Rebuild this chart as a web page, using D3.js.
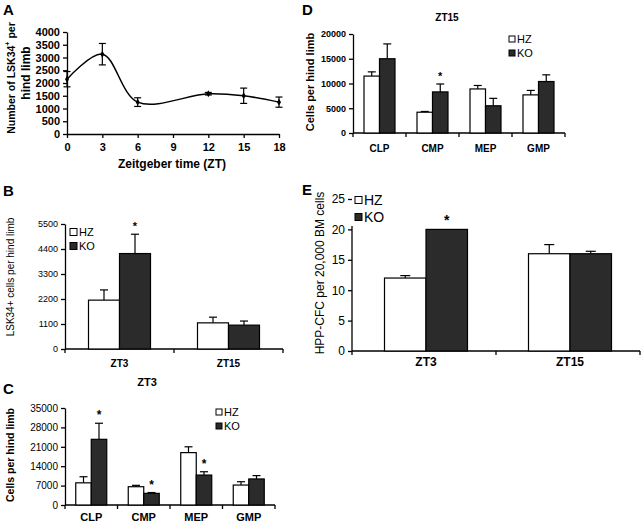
<!DOCTYPE html>
<html><head><meta charset="utf-8">
<script src="https://cdn.jsdelivr.net/npm/d3@7"></script>
<style>
body{margin:0;background:#fff;}
svg{font-family:"Liberation Sans",Arial,sans-serif;}
</style></head><body>
<svg id="c" width="643" height="526"></svg>
<script>
// ---- Data ----
// Panel A
const aTimes = [0, 3, 6, 12, 15, 18];
const aMeans = [2150, 3130, 1250, 1580, 1500, 1250];
const aErrs  = [300, 420, 170, 50, 300, 200];
const aYTicks = [0, 500, 1000, 1500, 2000, 2500, 3000, 3500, 4000];
const aXTicks = [0, 3, 6, 9, 12, 15, 18];
// Panel B
const bCats = ["ZT3", "ZT15"];
const bHZ = [2150, 1150];
const bHZerr = [450, 250];
const bKO = [4200, 1050];
const bKOerr = [850, 180];
const bTicks = [0, 1100, 2200, 3300, 4400, 5500];
const bStars = [1, 0];
// Panel C
const cCats = ["CLP", "CMP", "MEP", "GMP"];
const cHZ = [8000, 6600, 18900, 7200];
const cHZerr = [2200, 500, 2100, 1200];
const cKO = [23700, 4200, 10800, 9400];
const cKOerr = [5800, 300, 1200, 1200];
const cTicks = [0, 7000, 14000, 21000, 28000, 35000];
const cStars = [1, 1, 1, 0];
// Panel D
const dCats = ["CLP", "CMP", "MEP", "GMP"];
const dHZ = [11500, 4200, 8900, 7700];
const dHZerr = [850, 150, 700, 900];
const dKO = [15000, 8300, 5500, 10400];
const dKOerr = [3000, 1600, 1500, 1350];
const dTicks = [0, 5000, 10000, 15000, 20000];
const dStars = [0, 1, 0, 0];
// Panel E
const eCats = ["ZT3", "ZT15"];
const eHZ = [12, 16];
const eHZerr = [0.4, 1.5];
const eKO = [20, 16];
const eKOerr = [0, 0.4];
const eTicks = [0, 5, 10, 15, 20, 25];
const eStars = [1, 0];
const legendKeys = ["HZ", "KO"];

const svg = d3.select("#c");
const KOFILL = "#2b2b2b";
const fmt = d3.format("d");

function panelLetter(t, x, y) {
  svg.append("text").attr("x", x).attr("y", y).attr("font-size", 15)
    .attr("font-weight", "bold").text(t);
}

// ---- Panel A ----
(function(){
  const x = d3.scaleLinear().domain([0, 18]).range([67, 279]);
  const y = d3.scaleLinear().domain([0, 4000]).range([134, 32]);
  const g = svg.append("g");
  const ya = g.append("g").attr("transform", "translate(67,0)")
    .call(d3.axisLeft(y).tickValues(aYTicks).tickFormat(fmt).tickSize(4).tickSizeOuter(0));
  ya.selectAll("text").attr("font-size", 11).attr("font-weight", "bold")
    .attr("font-family", "Liberation Sans, Arial, sans-serif").attr("fill", "#000");
  const xa = g.append("g").attr("transform", "translate(0,134)")
    .call(d3.axisBottom(x).tickValues(aXTicks).tickFormat(fmt).tickSize(4).tickSizeOuter(0));
  xa.selectAll("text").attr("font-size", 11).attr("font-weight", "bold")
    .attr("font-family", "Liberation Sans, Arial, sans-serif").attr("fill", "#000").attr("dy", "0.9em");
  g.selectAll(".domain, .tick line").attr("stroke", "#000").attr("stroke-width", 1.3);
  const pts = aTimes.map((t, i) => [t, aMeans[i]]);
  g.append("path").datum(pts)
    .attr("d", d3.line().x(d => x(d[0])).y(d => y(d[1])).curve(d3.curveCatmullRom.alpha(0.5)))
    .attr("fill", "none").attr("stroke", "#000").attr("stroke-width", 1.5);
  aTimes.forEach((t, i) => {
    const cx = x(t), top = y(aMeans[i] + aErrs[i]), bot = y(aMeans[i] - aErrs[i]);
    g.append("line").attr("x1", cx).attr("x2", cx).attr("y1", top).attr("y2", bot).attr("stroke", "#000").attr("stroke-width", 1.2);
    [top, bot].forEach(yy => g.append("line").attr("x1", cx - 3.5).attr("x2", cx + 3.5).attr("y1", yy).attr("y2", yy).attr("stroke", "#000").attr("stroke-width", 1.2));
    g.append("path").attr("d", d3.symbol(d3.symbolDiamond, 14)()).attr("transform", `translate(${cx},${y(aMeans[i])})`).attr("fill", "#000");
  });
  g.append("text").attr("x", 172).attr("y", 168).attr("text-anchor", "middle")
    .attr("font-size", 12).attr("font-weight", "bold").text("Zeitgeber time (ZT)");
  const yl = g.append("text").attr("transform", "translate(15,78) rotate(-90)")
    .attr("text-anchor", "middle").attr("font-size", 10.5).attr("font-weight", "bold");
  yl.append("tspan").text("Number of LSK34");
  yl.append("tspan").attr("font-size", 7).attr("dy", -5).text("+");
  yl.append("tspan").attr("dy", 5).text(" per");
  g.append("text").attr("transform", "translate(30,73) rotate(-90)")
    .attr("text-anchor", "middle").attr("font-size", 12).attr("font-weight", "bold").text("hind limb");
  panelLetter("A", 3, 15);
})();

// ---- Generic grouped bar panel ----
function barPanel(o) {
  const g = svg.append("g");
  const x = d3.scaleBand().domain(o.cats).range([o.x0, o.x1]);
  const y = d3.scaleLinear().domain([0, o.ymax]).range([o.y0, o.y1]);
  const ya = g.append("g").attr("transform", `translate(${o.x0},0)`)
    .call(d3.axisLeft(y).tickValues(o.ticks).tickFormat(fmt).tickSize(4).tickSizeOuter(0));
  ya.selectAll("text").attr("font-size", o.tickFont).attr("font-weight", o.tickWeight)
    .attr("font-family", "Liberation Sans, Arial, sans-serif").attr("fill", "#000");
  if (o.axisTop != null) ya.select(".domain").attr("d", `M0,${o.axisTop}V${o.y0}`);
  // x axis with ticks at boundaries
  g.append("line").attr("x1", o.x0).attr("x2", o.x1).attr("y1", o.y0).attr("y2", o.y0).attr("stroke", "#000").attr("stroke-width", 1.3);
  const bounds = o.cats.map(c => x(c)).concat([o.x1]);
  bounds.forEach(bx => g.append("line").attr("x1", bx).attr("x2", bx).attr("y1", o.y0).attr("y2", o.y0 + 4).attr("stroke", "#000").attr("stroke-width", 1.3));
  g.selectAll(".domain, .tick line").attr("stroke", "#000").attr("stroke-width", 1.3);
  o.cats.forEach((c, i) => {
    const cx = x(c) + x.bandwidth() / 2 + (o.shift || 0);
    const series = [
      {v: o.hz[i], e: o.hzErr[i], x: cx - o.bw, fill: "#fff"},
      {v: o.ko[i], e: o.koErr[i], x: cx, fill: KOFILL}
    ];
    series.forEach(s => {
      const mid = s.x + o.bw / 2;
      if (s.e > 0) {
        const et = y(s.v + s.e);
        g.append("line").attr("x1", mid).attr("x2", mid).attr("y1", y(s.v)).attr("y2", et).attr("stroke", "#000").attr("stroke-width", 1.2);
        g.append("line").attr("x1", mid - o.cap).attr("x2", mid + o.cap).attr("y1", et).attr("y2", et).attr("stroke", "#000").attr("stroke-width", 1.2);
      }
      g.append("rect").attr("x", s.x).attr("y", y(s.v)).attr("width", o.bw).attr("height", o.y0 - y(s.v))
        .attr("fill", s.fill).attr("stroke", "#000").attr("stroke-width", 1.2);
    });
    if (o.stars[i]) {
      g.append("text").attr("x", cx + o.bw / 2).attr("y", y(o.ko[i] + o.koErr[i]) - 4).attr("text-anchor", "middle")
        .attr("font-size", o.starFont || 12).attr("font-weight", "bold").text("*");
    }
    g.append("text").attr("x", cx).attr("y", o.catY).attr("text-anchor", "middle")
      .attr("font-size", o.catFont).attr("font-weight", "bold").text(c);
  });
  // legend
  legendKeys.forEach((k, i) => {
    const ly = o.legY + i * o.legGap;
    g.append("rect").attr("x", o.legX).attr("y", ly - o.legSq / 2).attr("width", o.legSq).attr("height", o.legSq)
      .attr("fill", i ? KOFILL : "#fff").attr("stroke", "#000").attr("stroke-width", 1);
    g.append("text").attr("x", o.legX + o.legSq + 2).attr("y", ly).attr("dy", "0.35em")
      .attr("font-size", o.legFont).text(k);
  });
  if (o.title) g.append("text").attr("x", o.titleX).attr("y", o.titleY).attr("text-anchor", "middle")
    .attr("font-size", o.titleFont).attr("font-weight", "bold").text(o.title);
  g.append("text").attr("transform", `translate(${o.ylX},${o.ylY}) rotate(-90)`).attr("text-anchor", "middle")
    .attr("font-size", o.ylFont).attr("font-weight", o.ylWeight || "normal").text(o.ylabel);
  return g;
}

// Panel B
barPanel({cats: bCats, hz: bHZ, hzErr: bHZerr, ko: bKO, koErr: bKOerr, stars: bStars,
  x0: 65, x1: 283, y0: 349, y1: 224, ymax: 5500, ticks: bTicks, bw: 31, cap: 4,
  tickFont: 9, tickWeight: "normal", catFont: 10, catY: 367, starFont: 11,
  legX: 70, legY: 232, legGap: 14, legSq: 7, legFont: 11,
  ylabel: "LSK34+ cells per hind limb", ylX: 14, ylY: 277, ylFont: 10});
panelLetter("B", 3, 196);

// Panel C
barPanel({cats: cCats, hz: cHZ, hzErr: cHZerr, ko: cKO, koErr: cKOerr, stars: cStars,
  x0: 65, x1: 275, y0: 505, y1: 408, ymax: 35000, ticks: cTicks, bw: 15.5, cap: 4,
  tickFont: 10, tickWeight: "normal", catFont: 11, catY: 521, starFont: 12,
  legX: 216, legY: 412, legGap: 14, legSq: 6, legFont: 11,
  title: "ZT3", titleX: 147, titleY: 386, titleFont: 11,
  ylabel: "Cells per hind limb", ylX: 14, ylY: 455, ylFont: 10.5, ylWeight: "bold"});
panelLetter("C", 3, 394);

// Panel D
barPanel({cats: dCats, hz: dHZ, hzErr: dHZerr, ko: dKO, koErr: dKOerr, stars: dStars,
  x0: 353, x1: 565, y0: 133, y1: 34, ymax: 20000, ticks: dTicks, bw: 15.5, cap: 4,
  tickFont: 9, tickWeight: "bold", catFont: 10, catY: 152, starFont: 11,
  legX: 509, legY: 39, legGap: 14, legSq: 6, legFont: 11,
  title: "ZT15", titleX: 447, titleY: 21, titleFont: 10,
  ylabel: "Cells per hind limb", ylX: 314, ylY: 82, ylFont: 11, ylWeight: "bold"});
panelLetter("D", 302, 15);

// Panel E
barPanel({cats: eCats, hz: eHZ, hzErr: eHZerr, ko: eKO, koErr: eKOerr, stars: eStars,
  x0: 352, x1: 640, y0: 351, y1: 199, ymax: 25, ticks: eTicks, bw: 41.5, cap: 5, shift: 2,
  tickFont: 12, tickWeight: "normal", catFont: 12, catY: 366, starFont: 14,
  legX: 355, legY: 200, legGap: 17, legSq: 7, legFont: 14, axisTop: 226,
  ylabel: "HPP-CFC per 20,000 BM cells", ylX: 324, ylY: 273, ylFont: 12});
panelLetter("E", 302, 195);
</script>
</body></html>
